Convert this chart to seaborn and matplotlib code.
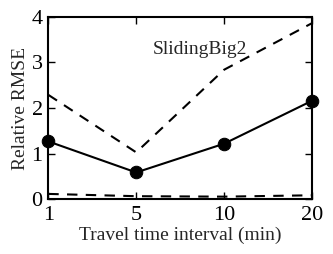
import numpy as np
import pandas as pd
import matplotlib
matplotlib.use('Agg')
import matplotlib.pyplot as plt
import seaborn as sns

# Values
intervals = ['1', '5', '10', '20']
rmse_mid = [1.27, 0.59, 1.22, 2.16]
rmse_high = [2.29, 1.03, 2.84, 3.86]
rmse_low = [0.12, 0.07, 0.06, 0.09]

sns.set_style('ticks')
plt.rcParams['font.family'] = ['Liberation Serif', 'DejaVu Serif']

pos = np.arange(len(intervals))
df = pd.DataFrame({'pos': pos, 'mid': rmse_mid, 'high': rmse_high, 'low': rmse_low})

fig, ax = plt.subplots(figsize=(3.33, 2.54), dpi=100)
fig.subplots_adjust(left=0.145, right=0.937, top=0.934, bottom=0.215)

sns.lineplot(data=df, x='pos', y='mid', color='black', lw=1.5, marker='o',
             markersize=9, markeredgecolor='black', ax=ax, clip_on=False, zorder=3)
sns.lineplot(data=df, x='pos', y='high', color='black', lw=1.5, ax=ax,
             linestyle=(0, (5, 4)))
sns.lineplot(data=df, x='pos', y='low', color='black', lw=1.5, ax=ax,
             linestyle=(0, (5, 4)))

ax.set_xlim(0, len(intervals) - 1)
ax.set_ylim(0, 4)
ax.set_xticks(pos)
ax.set_xticklabels(intervals)
ax.set_yticks([0, 1, 2, 3, 4])
ax.tick_params(direction='in', top=True, right=True, length=5, width=1,
               labelsize=16, colors='black')
ax.tick_params(axis='x', pad=5)
ax.tick_params(axis='y', pad=4)
for s in ax.spines.values():
    s.set_linewidth(1.5)
    s.set_color('black')

ax.set_xlabel('Travel time interval (min)', fontsize=14, labelpad=1)
ax.set_ylabel('Relative RMSE', fontsize=14, labelpad=2)
ax.text(0.576, 0.82, 'SlidingBig2', transform=ax.transAxes, ha='center',
        va='center', fontsize=14)

fig.savefig('out.png', dpi=100)
